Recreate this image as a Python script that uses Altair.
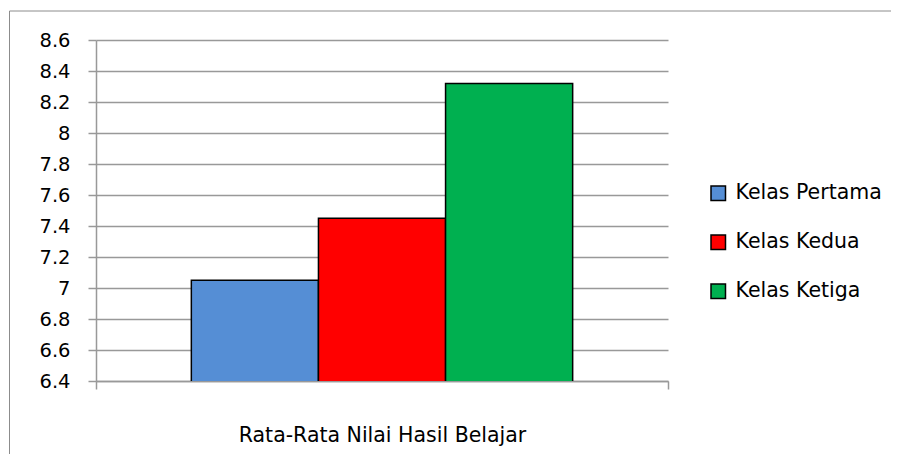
import altair as alt
import pandas as pd

group = ["Rata-Rata Nilai Hasil Belajar"] * 3
series = ["Kelas Pertama", "Kelas Kedua", "Kelas Ketiga"]
values = [7.05, 7.45, 8.32]
colors = ["#558ED5", "#FF0000", "#00B050"]
y_ticks = [6.4, 6.6, 6.8, 7.0, 7.2, 7.4, 7.6, 7.8, 8.0, 8.2, 8.4, 8.6]

df = pd.DataFrame({"group": group, "series": series, "value": values})

FONT = "DejaVu Sans"
GRID = "#999999"

bars = alt.Chart(df).mark_bar(stroke="black", strokeWidth=1.5, clip=True).encode(
    x=alt.X("group:N", title=None,
            scale=alt.Scale(paddingInner=0, paddingOuter=0),
            axis=alt.Axis(labelAngle=0, tickBand="extent", tickSize=8,
                          labelPadding=36, labelFontSize=20.5, labelFont=FONT,
                          labelLimit=0,
                          labelColor="black", domainColor=GRID,
                          tickColor=GRID, domainWidth=1.5, tickWidth=1.5)),
    xOffset=alt.XOffset("series:N", sort=series,
                        scale=alt.Scale(paddingInner=0, paddingOuter=0.75)),
    y=alt.Y("value:Q", title=None,
            scale=alt.Scale(domain=[6.4, 8.6], nice=False, zero=False),
            axis=alt.Axis(values=y_ticks, format=".1~f", tickSize=8,
                          labelPadding=18, labelFontSize=19.5, labelFont=FONT,
                          labelColor="black", domainColor=GRID,
                          tickColor=GRID, gridColor=GRID,
                          gridWidth=1.5, domainWidth=1.5, tickWidth=1.5)),
    color=alt.Color("series:N", sort=series,
                    scale=alt.Scale(domain=series, range=colors),
                    legend=alt.Legend(title=None, orient="none",
                                      legendX=612, legendY=143,
                                      symbolType="square", symbolSize=210,
                                      symbolStrokeColor="black",
                                      symbolStrokeWidth=1.5,
                                      symbolOpacity=1,
                                      labelFontSize=20.5, labelFont=FONT,
                                      labelLimit=0,
                                      labelColor="black", rowPadding=28,
                                      labelOffset=7)),
)

frame = alt.Chart(alt.Data(values=[{"f": 1}])).mark_rect(
    fill=None, stroke="#8c8c8c", strokeWidth=1
).encode(
    x=alt.value(-86.5), x2=alt.value(1200),
    y=alt.value(-29), y2=alt.value(800),
)

chart = alt.layer(frame, bars).properties(
    width=572, height=341,
    autosize=alt.AutoSizeParams(type="none"),
    padding={"left": 88, "top": 32, "right": 223, "bottom": 73},
).configure_view(stroke=None)

chart.save("out.html", embed_options={"renderer": "svg", "actions": False})
